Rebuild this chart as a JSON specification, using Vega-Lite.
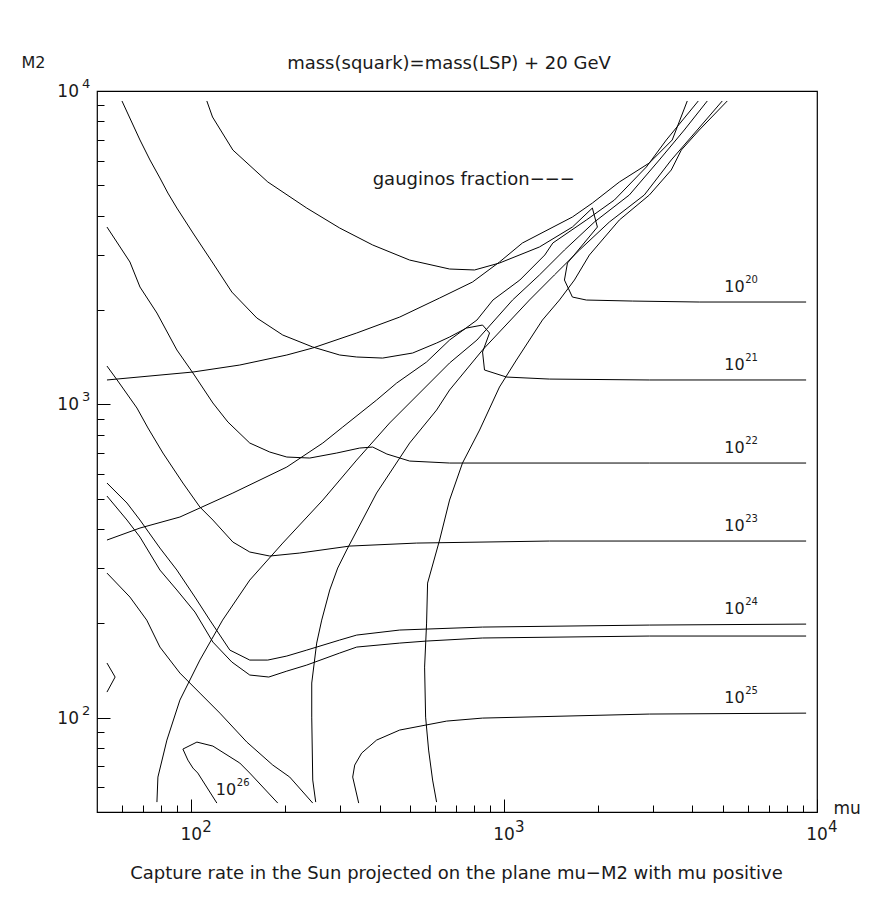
{
"$schema": "https://vega.github.io/schema/vega-lite/v6.json",
"width": 720,
"height": 721,
"autosize": {"type": "none"},
"padding": {"left": 97, "top": 91, "right": 79, "bottom": 89},
"background": "white",
"title": {"text": "mass(squark)=mass(LSP) + 20 GeV", "frame": "group", "anchor": "middle", "offset": 23, "dx": -8, "dy": 56, "baseline": "alphabetic", "fontSize": 18, "font": "DejaVu Sans", "fontWeight": "normal", "color": "#1a1a1a"},
"datasets": {
"curves": [
{"c":"C20","i":0,"mu":112.2,"M2":9292},{"c":"C20","i":1,"mu":117.0,"M2":8260},{"c":"C20","i":2,"mu":135.9,"M2":6480},{"c":"C20","i":3,"mu":175.7,"M2":5125},{"c":"C20","i":4,"mu":234.0,"M2":4231},{"c":"C20","i":5,"mu":298.2,"M2":3654},{"c":"C20","i":6,"mu":380.2,"M2":3225},{"c":"C20","i":7,"mu":499.0,"M2":2887},{"c":"C20","i":8,"mu":669.5,"M2":2703},{"c":"C20","i":9,"mu":804.6,"M2":2684},{"c":"C20","i":10,"mu":966.7,"M2":2825},{"c":"C20","i":11,"mu":1297,"M2":3178},{"c":"C20","i":12,"mu":1653,"M2":3680},{"c":"C20","i":13,"mu":1915,"M2":4231},{"c":"C20","i":14,"mu":1987,"M2":3680},{"c":"C20","i":15,"mu":1594,"M2":2825},{"c":"C20","i":16,"mu":1559,"M2":2493},{"c":"C20","i":17,"mu":1653,"M2":2200},{"c":"C20","i":18,"mu":1832,"M2":2152},{"c":"C20","i":19,"mu":2570,"M2":2136},{"c":"C20","i":20,"mu":4204,"M2":2121},{"c":"C20","i":21,"mu":9230,"M2":2121},
{"c":"C21","i":0,"mu":60.09,"M2":9292},{"c":"C21","i":1,"mu":68.6,"M2":6977},{"c":"C21","i":2,"mu":73.84,"M2":6024},{"c":"C21","i":3,"mu":79.45,"M2":5277},{"c":"C21","i":4,"mu":84.25,"M2":4724},{"c":"C21","i":5,"mu":90.0,"M2":4231},{"c":"C21","i":6,"mu":101.3,"M2":3523},{"c":"C21","i":7,"mu":117.3,"M2":2825},{"c":"C21","i":8,"mu":134.9,"M2":2282},{"c":"C21","i":9,"mu":162.1,"M2":1886},{"c":"C21","i":10,"mu":196.2,"M2":1664},{"c":"C21","i":11,"mu":244.6,"M2":1524},{"c":"C21","i":12,"mu":298.2,"M2":1437},{"c":"C21","i":13,"mu":338.0,"M2":1416},{"c":"C21","i":14,"mu":409.1,"M2":1405},{"c":"C21","i":15,"mu":510.2,"M2":1458},{"c":"C21","i":16,"mu":608.5,"M2":1569},{"c":"C21","i":17,"mu":669.5,"M2":1640},{"c":"C21","i":18,"mu":758.6,"M2":1752},{"c":"C21","i":19,"mu":853.4,"M2":1791},{"c":"C21","i":20,"mu":898.3,"M2":1689},{"c":"C21","i":21,"mu":853.4,"M2":1469},{"c":"C21","i":22,"mu":865.8,"M2":1287},{"c":"C21","i":23,"mu":1018,"M2":1222},{"c":"C21","i":24,"mu":1396,"M2":1204},{"c":"C21","i":25,"mu":2912,"M2":1196},{"c":"C21","i":26,"mu":9230,"M2":1196},
{"c":"C22","i":0,"mu":53.81,"M2":3680},{"c":"C22","i":1,"mu":63.72,"M2":2846},{"c":"C22","i":2,"mu":68.6,"M2":2368},{"c":"C22","i":3,"mu":77.71,"M2":1956},{"c":"C22","i":4,"mu":90.0,"M2":1491},{"c":"C22","i":5,"mu":101.3,"M2":1259},{"c":"C22","i":6,"mu":117.3,"M2":1010},{"c":"C22","i":7,"mu":131.0,"M2":878.3},{"c":"C22","i":8,"mu":153.9,"M2":752.5},{"c":"C22","i":9,"mu":178.3,"M2":704.3},{"c":"C22","i":10,"mu":202.1,"M2":678.9},{"c":"C22","i":11,"mu":239.3,"M2":673.9},{"c":"C22","i":12,"mu":291.8,"M2":699.2},{"c":"C22","i":13,"mu":345.6,"M2":725.3},{"c":"C22","i":14,"mu":380.2,"M2":730.7},{"c":"C22","i":15,"mu":422.1,"M2":694.0},{"c":"C22","i":16,"mu":499.0,"M2":659.2},{"c":"C22","i":17,"mu":669.5,"M2":649.6},{"c":"C22","i":18,"mu":2912,"M2":649.6},{"c":"C22","i":19,"mu":9230,"M2":649.6},
{"c":"C23","i":0,"mu":53.81,"M2":1325},{"c":"C23","i":1,"mu":57.98,"M2":1196},{"c":"C23","i":2,"mu":67.09,"M2":973.2},{"c":"C23","i":3,"mu":72.76,"M2":840.5},{"c":"C23","i":4,"mu":81.22,"M2":699.2},{"c":"C23","i":5,"mu":94.08,"M2":560.9},{"c":"C23","i":6,"mu":106.6,"M2":470.2},{"c":"C23","i":7,"mu":117.3,"M2":427.3},{"c":"C23","i":8,"mu":135.9,"M2":363.5},{"c":"C23","i":9,"mu":153.9,"M2":337.8},{"c":"C23","i":10,"mu":178.3,"M2":328.0},{"c":"C23","i":11,"mu":222.3,"M2":335.3},{"c":"C23","i":12,"mu":321.1,"M2":352.9},{"c":"C23","i":13,"mu":525.3,"M2":360.8},{"c":"C23","i":14,"mu":1396,"M2":366.2},{"c":"C23","i":15,"mu":9230,"M2":366.2},
{"c":"C24a","i":0,"mu":53.81,"M2":560.9},{"c":"C24a","i":1,"mu":62.35,"M2":484.2},{"c":"C24a","i":2,"mu":68.6,"M2":427.3},{"c":"C24a","i":3,"mu":79.45,"M2":347.8},{"c":"C24a","i":4,"mu":90.0,"M2":295.9},{"c":"C24a","i":5,"mu":102.8,"M2":242.6},{"c":"C24a","i":6,"mu":114.7,"M2":204.8},{"c":"C24a","i":7,"mu":132.9,"M2":164.3},{"c":"C24a","i":8,"mu":153.9,"M2":152.7},{"c":"C24a","i":9,"mu":175.7,"M2":152.7},{"c":"C24a","i":10,"mu":202.1,"M2":157.3},{"c":"C24a","i":11,"mu":234.0,"M2":164.3},{"c":"C24a","i":12,"mu":298.2,"M2":176.9},{"c":"C24a","i":13,"mu":338.0,"M2":183.5},{"c":"C24a","i":14,"mu":463.8,"M2":190.4},{"c":"C24a","i":15,"mu":853.4,"M2":194.6},{"c":"C24a","i":16,"mu":2912,"M2":197.5},{"c":"C24a","i":17,"mu":9230,"M2":198.9},
{"c":"C24b","i":0,"mu":53.81,"M2":509.7},{"c":"C24b","i":1,"mu":62.35,"M2":427.3},{"c":"C24b","i":2,"mu":68.6,"M2":377.1},{"c":"C24b","i":3,"mu":79.45,"M2":295.9},{"c":"C24b","i":4,"mu":90.0,"M2":255.5},{"c":"C24b","i":5,"mu":102.8,"M2":217.3},{"c":"C24b","i":6,"mu":117.3,"M2":174.3},{"c":"C24b","i":7,"mu":134.9,"M2":150.5},{"c":"C24b","i":8,"mu":153.9,"M2":136.8},{"c":"C24b","i":9,"mu":177.0,"M2":134.8},{"c":"C24b","i":10,"mu":202.1,"M2":140.8},{"c":"C24b","i":11,"mu":234.0,"M2":147.2},{"c":"C24b","i":12,"mu":298.2,"M2":160.8},{"c":"C24b","i":13,"mu":338.0,"M2":168.0},{"c":"C24b","i":14,"mu":463.8,"M2":173.0},{"c":"C24b","i":15,"mu":565.3,"M2":175.6},{"c":"C24b","i":16,"mu":853.4,"M2":179.6},{"c":"C24b","i":17,"mu":2912,"M2":182.2},{"c":"C24b","i":18,"mu":9230,"M2":182.2},
{"c":"C25L","i":0,"mu":53.81,"M2":289.4},{"c":"C25L","i":1,"mu":63.72,"M2":242.6},{"c":"C25L","i":2,"mu":72.10,"M2":204.8},{"c":"C25L","i":3,"mu":79.45,"M2":168.0},{"c":"C25L","i":4,"mu":92.02,"M2":138.8},{"c":"C25L","i":5,"mu":106.6,"M2":119.8},{"c":"C25L","i":6,"mu":123.5,"M2":103.4},{"c":"C25L","i":7,"mu":150.6,"M2":83.58},{"c":"C25L","i":8,"mu":182.3,"M2":70.59},{"c":"C25L","i":9,"mu":206.5,"M2":64.63},{"c":"C25L","i":10,"mu":244.6,"M2":53.39},
{"c":"C25R","i":0,"mu":343.0,"M2":53.39},{"c":"C25R","i":1,"mu":328.2,"M2":64.63},{"c":"C25R","i":2,"mu":333.1,"M2":70.59},{"c":"C25R","i":3,"mu":350.6,"M2":77.09},{"c":"C25R","i":4,"mu":391.3,"M2":84.82},{"c":"C25R","i":5,"mu":463.8,"M2":91.30},{"c":"C25R","i":6,"mu":655.1,"M2":97.52},{"c":"C25R","i":7,"mu":853.4,"M2":99.70},{"c":"C25R","i":8,"mu":2912,"M2":102.7},{"c":"C25R","i":9,"mu":9230,"M2":103.4},
{"c":"C26","i":0,"mu":120.8,"M2":53.39},{"c":"C26","i":1,"mu":105.0,"M2":66.56},{"c":"C26","i":2,"mu":101.3,"M2":69.05},{"c":"C26","i":3,"mu":97.6,"M2":73.21},{"c":"C26","i":4,"mu":94.08,"M2":79.40},{"c":"C26","i":5,"mu":104.3,"M2":83.58},{"c":"C26","i":6,"mu":117.3,"M2":81.17},{"c":"C26","i":7,"mu":143.0,"M2":71.65},{"c":"C26","i":8,"mu":153.9,"M2":66.56},{"c":"C26","i":9,"mu":189.1,"M2":53.39},
{"c":"CH","i":0,"mu":53.81,"M2":149.4},{"c":"CH","i":1,"mu":57.13,"M2":134.8},{"c":"CH","i":2,"mu":53.81,"M2":120.7},
{"c":"L1","i":0,"mu":53.81,"M2":1196},{"c":"L1","i":1,"mu":101.3,"M2":1268},{"c":"L1","i":2,"mu":143.0,"M2":1335},{"c":"L1","i":3,"mu":202.1,"M2":1437},{"c":"L1","i":4,"mu":244.6,"M2":1513},{"c":"L1","i":5,"mu":338.0,"M2":1689},{"c":"L1","i":6,"mu":463.8,"M2":1899},{"c":"L1","i":7,"mu":622.1,"M2":2184},{"c":"L1","i":8,"mu":792.9,"M2":2457},{"c":"L1","i":9,"mu":966.7,"M2":2846},{"c":"L1","i":10,"mu":1144,"M2":3272},{"c":"L1","i":11,"mu":1653,"M2":3961},{"c":"L1","i":12,"mu":1915,"M2":4389},{"c":"L1","i":13,"mu":2335,"M2":5123},{"c":"L1","i":14,"mu":2912,"M2":5893},{"c":"L1","i":15,"mu":3446,"M2":6977},{"c":"L1","i":16,"mu":3849,"M2":9292},
{"c":"L2","i":0,"mu":53.81,"M2":368.9},{"c":"L2","i":1,"mu":68.6,"M2":402.9},{"c":"L2","i":2,"mu":92.02,"M2":436.9},{"c":"L2","i":3,"mu":135.9,"M2":521.1},{"c":"L2","i":4,"mu":202.1,"M2":630.8},{"c":"L2","i":5,"mu":263.4,"M2":752.5},{"c":"L2","i":6,"mu":305.1,"M2":846.5},{"c":"L2","i":7,"mu":391.3,"M2":1032},{"c":"L2","i":8,"mu":453.4,"M2":1169},{"c":"L2","i":9,"mu":565.3,"M2":1365},{"c":"L2","i":10,"mu":669.5,"M2":1604},{"c":"L2","i":11,"mu":818.9,"M2":1858},{"c":"L2","i":12,"mu":921.1,"M2":2152},{"c":"L2","i":13,"mu":1123,"M2":2493},{"c":"L2","i":14,"mu":1349,"M2":2996},{"c":"L2","i":15,"mu":1431,"M2":3272},{"c":"L2","i":16,"mu":1832,"M2":3875},{"c":"L2","i":17,"mu":2251,"M2":4487},{"c":"L2","i":18,"mu":2849,"M2":5721},{"c":"L2","i":19,"mu":3299,"M2":6977},{"c":"L2","i":20,"mu":4174,"M2":9292},
{"c":"L3","i":0,"mu":77.71,"M2":53.78},{"c":"L3","i":1,"mu":78.28,"M2":64.63},{"c":"L3","i":2,"mu":83.63,"M2":84.82},{"c":"L3","i":3,"mu":92.02,"M2":113.8},{"c":"L3","i":4,"mu":106.6,"M2":152.7},{"c":"L3","i":5,"mu":126.0,"M2":204.8},{"c":"L3","i":6,"mu":153.9,"M2":274.9},{"c":"L3","i":7,"mu":196.2,"M2":360.8},{"c":"L3","i":8,"mu":263.4,"M2":494.9},{"c":"L3","i":9,"mu":338.0,"M2":664.0},{"c":"L3","i":10,"mu":430.6,"M2":871.8},{"c":"L3","i":11,"mu":548.9,"M2":1111},{"c":"L3","i":12,"mu":669.5,"M2":1355},{"c":"L3","i":13,"mu":818.9,"M2":1604},{"c":"L3","i":14,"mu":1064,"M2":2152},{"c":"L3","i":15,"mu":1297,"M2":2587},{"c":"L3","i":16,"mu":1559,"M2":3108},{"c":"L3","i":17,"mu":1944,"M2":3819},{"c":"L3","i":18,"mu":2513,"M2":4657},{"c":"L3","i":19,"mu":3133,"M2":6024},{"c":"L3","i":20,"mu":3766,"M2":7508},{"c":"L3","i":21,"mu":4460,"M2":9292},
{"c":"L4","i":0,"mu":250.0,"M2":53.78},{"c":"L4","i":1,"mu":244.6,"M2":63.23},{"c":"L4","i":2,"mu":242.8,"M2":100.4},{"c":"L4","i":3,"mu":242.8,"M2":129.0},{"c":"L4","i":4,"mu":251.8,"M2":173.0},{"c":"L4","i":5,"mu":261.3,"M2":204.8},{"c":"L4","i":6,"mu":277.2,"M2":255.5},{"c":"L4","i":7,"mu":293.9,"M2":300.3},{"c":"L4","i":8,"mu":314.0,"M2":342.8},{"c":"L4","i":9,"mu":391.3,"M2":521.1},{"c":"L4","i":10,"mu":499.0,"M2":752.5},{"c":"L4","i":11,"mu":608.5,"M2":959.0},{"c":"L4","i":12,"mu":669.5,"M2":1111},{"c":"L4","i":13,"mu":853.4,"M2":1491},{"c":"L4","i":14,"mu":1205,"M2":2152},{"c":"L4","i":15,"mu":1448,"M2":2587},{"c":"L4","i":16,"mu":1741,"M2":3108},{"c":"L4","i":17,"mu":2170,"M2":3819},{"c":"L4","i":18,"mu":2806,"M2":4657},{"c":"L4","i":19,"mu":3422,"M2":6024},{"c":"L4","i":20,"mu":4143,"M2":7508},{"c":"L4","i":21,"mu":4979,"M2":9292},
{"c":"L5","i":0,"mu":608.5,"M2":53.78},{"c":"L5","i":1,"mu":590.9,"M2":63.23},{"c":"L5","i":2,"mu":573.8,"M2":78.82},{"c":"L5","i":3,"mu":561.3,"M2":100.4},{"c":"L5","i":4,"mu":557.1,"M2":145.0},{"c":"L5","i":5,"mu":565.3,"M2":200.4},{"c":"L5","i":6,"mu":569.5,"M2":268.9},{"c":"L5","i":7,"mu":622.1,"M2":368.9},{"c":"L5","i":8,"mu":669.5,"M2":494.9},{"c":"L5","i":9,"mu":736.3,"M2":649.6},{"c":"L5","i":10,"mu":835.0,"M2":827.9},{"c":"L5","i":11,"mu":966.7,"M2":1136},{"c":"L5","i":12,"mu":1095,"M2":1385},{"c":"L5","i":13,"mu":1326,"M2":1858},{"c":"L5","i":14,"mu":1503,"M2":2152},{"c":"L5","i":15,"mu":1678,"M2":2493},{"c":"L5","i":16,"mu":1873,"M2":2996},{"c":"L5","i":17,"mu":2335,"M2":3875},{"c":"L5","i":18,"mu":2913,"M2":4657},{"c":"L5","i":19,"mu":3422,"M2":5596},{"c":"L5","i":20,"mu":3684,"M2":6480},{"c":"L5","i":21,"mu":4205,"M2":7508},{"c":"L5","i":22,"mu":5166,"M2":9292}
],
"clab": [
{"mu":5052,"M2":2368,"b":"10","e":"20"},
{"mu":5052,"M2":1335,"b":"10","e":"21"},
{"mu":5052,"M2":725.3,"b":"10","e":"22"},
{"mu":5052,"M2":408.8,"b":"10","e":"23"},
{"mu":5052,"M2":222.2,"b":"10","e":"24"},
{"mu":5052,"M2":115.5,"b":"10","e":"25"},
{"mu":119.9,"M2":58.73,"b":"10","e":"26"}
],
"note": [{"mu":380.2,"M2":5199,"t":"gauginos fraction−−−"}],
"xlab": [{"mu":100,"M2":50,"b":"10","e":"2"},{"mu":1000,"M2":50,"b":"10","e":"3"},{"mu":10000,"M2":50,"b":"10","e":"4"}],
"ylab": [{"mu":50,"M2":100,"b":"10","e":"2"},{"mu":50,"M2":1000,"b":"10","e":"3"},{"mu":50,"M2":10000,"b":"10","e":"4"}]
},
"layer": [
{
"data": {"name": "curves"},
"mark": {"type": "line", "stroke": "#000", "strokeWidth": 1},
"encoding": {
"x": {"field": "mu", "type": "quantitative", "scale": {"type": "log", "domain": [50, 10000], "nice": false},
"axis": {"orient": "bottom", "values": [100, 1000, 10000], "tickSize": -13, "labels": false, "domain": false, "grid": false, "title": "mu", "titleX": 736, "titleY": -4, "titleAlign": "left", "titleBaseline": "middle", "titleFontSize": 17}},
"y": {"field": "M2", "type": "quantitative", "scale": {"type": "log", "domain": [50, 10000], "nice": false},
"axis": {"orient": "left", "values": [100, 1000, 10000], "tickSize": -13, "labels": false, "domain": false, "grid": false, "title": "M2", "titleX": -76, "titleY": -29, "titleAngle": 0, "titleAlign": "left", "titleBaseline": "middle", "titleFontSize": 16}},
"detail": {"field": "c"},
"order": {"field": "i", "type": "quantitative"}
}
},
{
"data": {"name": "clab"},
"mark": {"type": "text", "align": "left", "baseline": "middle", "fontSize": 16},
"encoding": {
"x": {"field": "mu", "type": "quantitative", "scale": {"type": "log", "domain": [50, 10000], "nice": false},
"axis": {"orient": "bottom", "values": [60,70,80,90,200,300,400,500,600,700,800,900,2000,3000,4000,5000,6000,7000,8000,9000], "tickSize": -7, "labels": false, "domain": false, "grid": false, "title": "Capture rate in the Sun projected on the plane mu−M2 with mu positive", "titleX": 359, "titleY": 61, "titleAlign": "center", "titleBaseline": "middle", "titleFontSize": 18}},
"y": {"field": "M2", "type": "quantitative", "scale": {"type": "log", "domain": [50, 10000], "nice": false},
"axis": {"orient": "left", "values": [60,70,80,90,200,300,400,500,600,700,800,900,2000,3000,4000,5000,6000,7000,8000,9000], "tickSize": -7, "labels": false, "domain": false, "grid": false, "title": null}},
"text": {"field": "b"}
}
},
{
"data": {"name": "clab"},
"mark": {"type": "text", "align": "left", "baseline": "middle", "fontSize": 10, "dx": 21, "dy": -7},
"encoding": {
"x": {"field": "mu", "type": "quantitative", "scale": {"type": "log", "domain": [50, 10000], "nice": false}, "axis": null},
"y": {"field": "M2", "type": "quantitative", "scale": {"type": "log", "domain": [50, 10000], "nice": false}, "axis": null},
"text": {"field": "e"}
}
},
{
"data": {"name": "note"},
"mark": {"type": "text", "align": "left", "baseline": "middle", "fontSize": 18},
"encoding": {
"x": {"field": "mu", "type": "quantitative", "scale": {"type": "log", "domain": [50, 10000], "nice": false}, "axis": null},
"y": {"field": "M2", "type": "quantitative", "scale": {"type": "log", "domain": [50, 10000], "nice": false}, "axis": null},
"text": {"field": "t"}
}
},
{
"data": {"name": "xlab"},
"mark": {"type": "text", "align": "center", "baseline": "middle", "fontSize": 17, "dy": 23},
"encoding": {
"x": {"field": "mu", "type": "quantitative", "scale": {"type": "log", "domain": [50, 10000], "nice": false}, "axis": null},
"y": {"field": "M2", "type": "quantitative", "scale": {"type": "log", "domain": [50, 10000], "nice": false}, "axis": null},
"text": {"field": "b"}
}
},
{
"data": {"name": "xlab"},
"mark": {"type": "text", "align": "left", "baseline": "middle", "fontSize": 15, "dx": 11, "dy": 15},
"encoding": {
"x": {"field": "mu", "type": "quantitative", "scale": {"type": "log", "domain": [50, 10000], "nice": false}, "axis": null},
"y": {"field": "M2", "type": "quantitative", "scale": {"type": "log", "domain": [50, 10000], "nice": false}, "axis": null},
"text": {"field": "e"}
}
},
{
"data": {"name": "ylab"},
"mark": {"type": "text", "align": "right", "baseline": "middle", "fontSize": 17, "dx": -18, "dy": 1},
"encoding": {
"x": {"field": "mu", "type": "quantitative", "scale": {"type": "log", "domain": [50, 10000], "nice": false}, "axis": null},
"y": {"field": "M2", "type": "quantitative", "scale": {"type": "log", "domain": [50, 10000], "nice": false}, "axis": null},
"text": {"field": "b"}
}
},
{
"data": {"name": "ylab"},
"mark": {"type": "text", "align": "left", "baseline": "middle", "fontSize": 13, "dx": -15, "dy": -7},
"encoding": {
"x": {"field": "mu", "type": "quantitative", "scale": {"type": "log", "domain": [50, 10000], "nice": false}, "axis": null},
"y": {"field": "M2", "type": "quantitative", "scale": {"type": "log", "domain": [50, 10000], "nice": false}, "axis": null},
"text": {"field": "e"}
}
}
],
"resolve": {"axis": {"x": "independent", "y": "independent"}},
"config": {
"view": {"stroke": "#000", "strokeWidth": 1.2},
"axis": {"tickColor": "#000", "tickWidth": 1, "titleFont": "DejaVu Sans", "titleFontWeight": "normal", "titleColor": "#1a1a1a"},
"text": {"font": "DejaVu Sans", "color": "#1a1a1a"}
}
}
